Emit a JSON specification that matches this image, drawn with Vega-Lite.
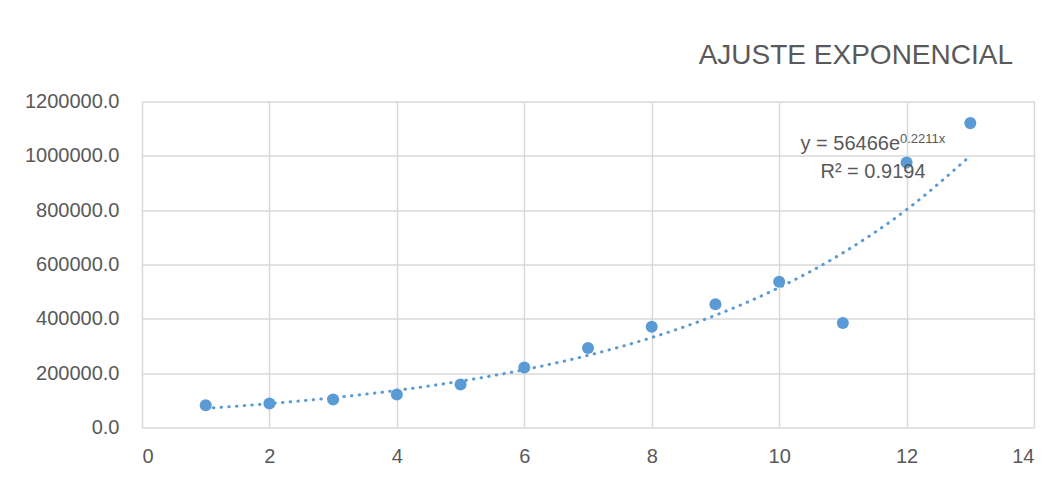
{
  "$schema": "https://vega.github.io/schema/vega-lite/v6.json",
  "width": 892,
  "height": 326,
  "autosize": {"type": "none"},
  "padding": {"left": 142, "top": 101.5, "right": 29, "bottom": 51.5},
  "background": "white",
  "title": {
    "text": "AJUSTE EXPONENCIAL",
    "anchor": "end",
    "frame": "group",
    "fontSize": 28,
    "font": "Liberation Sans",
    "fontWeight": "normal",
    "color": "#595959",
    "offset": 0,
    "dx": -21,
    "baseline": "alphabetic"
  },
  "config": {
    "view": {"stroke": null},
    "axis": {
      "domain": false,
      "ticks": false,
      "grid": true,
      "gridColor": "#d9d9d9",
      "gridWidth": 1.5,
      "labelFont": "Liberation Sans",
      "labelFontSize": 20,
      "labelColor": "#595959",
      "title": null
    }
  },
  "datasets": {
    "points": [
      {"x": 1, "y": 82200},
      {"x": 2, "y": 88450},
      {"x": 3, "y": 103200},
      {"x": 4, "y": 121600},
      {"x": 5, "y": 158500},
      {"x": 6, "y": 221100},
      {"x": 7, "y": 292300},
      {"x": 8, "y": 370800},
      {"x": 9, "y": 453300},
      {"x": 10, "y": 536600},
      {"x": 11, "y": 384400},
      {"x": 12, "y": 975200},
      {"x": 13, "y": 1120400}
    ],
    "trend": [
      {"x": 1, "y": 70440},
      {"x": 2, "y": 87870},
      {"x": 3, "y": 109610},
      {"x": 4, "y": 136730},
      {"x": 5, "y": 170570},
      {"x": 6, "y": 212780},
      {"x": 7, "y": 265430},
      {"x": 8, "y": 331100},
      {"x": 9, "y": 413030},
      {"x": 10, "y": 515250},
      {"x": 11, "y": 642750},
      {"x": 12, "y": 801800},
      {"x": 13, "y": 1000180}
    ],
    "eq": [{"label": "y = 56466e", "sup": "0.2211x", "r2": "R² = 0.9194"}]
  },
  "layer": [
    {
      "data": {"name": "trend"},
      "mark": {"type": "line", "color": "#5b9bd5", "strokeWidth": 3, "strokeDash": [0.5, 7.2], "strokeCap": "round", "interpolate": "monotone"},
      "encoding": {
        "x": {
          "field": "x",
          "type": "quantitative",
          "scale": {"domain": [0, 14], "nice": false, "zero": false},
          "axis": {"values": [0, 2, 4, 6, 8, 10, 12, 14], "format": "d", "labelPadding": 19}
        },
        "y": {
          "field": "y",
          "type": "quantitative",
          "scale": {"domain": [0, 1200000], "nice": false},
          "axis": {"values": [0, 200000, 400000, 600000, 800000, 1000000, 1200000], "format": ".1f", "labelPadding": 23}
        }
      }
    },
    {
      "data": {"name": "points"},
      "mark": {"type": "circle", "color": "#5b9bd5", "size": 145, "opacity": 1},
      "encoding": {
        "x": {"field": "x", "type": "quantitative"},
        "y": {"field": "y", "type": "quantitative"}
      }
    },
    {
      "data": {"name": "eq"},
      "mark": {"type": "text", "align": "right", "baseline": "alphabetic", "font": "Liberation Sans", "fontSize": 20, "color": "#595959"},
      "encoding": {
        "x": {"datum": 11.897, "type": "quantitative"},
        "y": {"datum": 1022000, "type": "quantitative"},
        "text": {"field": "label", "type": "nominal"}
      }
    },
    {
      "data": {"name": "eq"},
      "mark": {"type": "text", "align": "left", "baseline": "alphabetic", "font": "Liberation Sans", "fontSize": 13, "color": "#595959"},
      "encoding": {
        "x": {"datum": 11.897, "type": "quantitative"},
        "y": {"datum": 1047800, "type": "quantitative"},
        "text": {"field": "sup", "type": "nominal"}
      }
    },
    {
      "data": {"name": "eq"},
      "mark": {"type": "text", "align": "center", "baseline": "alphabetic", "font": "Liberation Sans", "fontSize": 20, "color": "#595959"},
      "encoding": {
        "x": {"datum": 11.473, "type": "quantitative"},
        "y": {"datum": 918800, "type": "quantitative"},
        "text": {"field": "r2", "type": "nominal"}
      }
    }
  ]
}
